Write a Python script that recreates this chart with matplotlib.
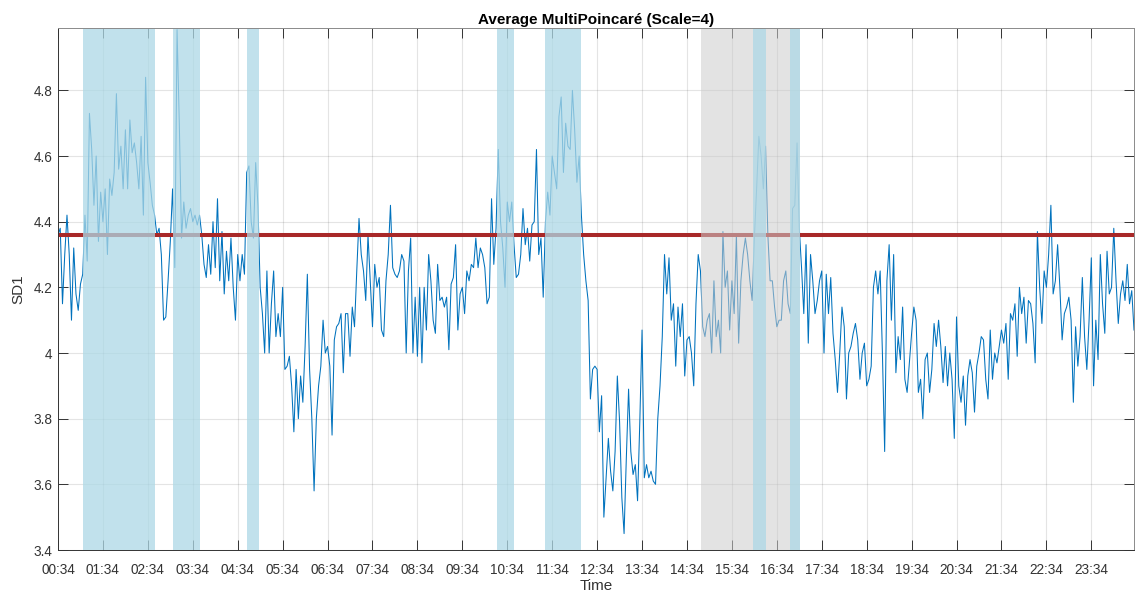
import matplotlib
matplotlib.use("Agg")
import numpy as np
import pandas as pd
import matplotlib.pyplot as plt

# SD1 averaged over the MultiPoincaré scale-4 windows, one value every 3 minutes
# starting at 00:34 (20 values per hour, one row per hour)
sd1 = [
    4.36, 4.38, 4.15, 4.30, 4.42, 4.30, 4.10, 4.32, 4.18, 4.13, 4.21, 4.24, 4.42, 4.28, 4.73, 4.62, 4.45, 4.60, 4.34, 4.49,
    4.40, 4.50, 4.30, 4.53, 4.48, 4.55, 4.79, 4.56, 4.63, 4.50, 4.68, 4.50, 4.71, 4.61, 4.64, 4.58, 4.50, 4.66, 4.42, 4.84,
    4.58, 4.52, 4.45, 4.42, 4.36, 4.38, 4.30, 4.10, 4.11, 4.22, 4.34, 4.50, 4.26, 4.985, 4.70, 4.35, 4.46, 4.38, 4.42, 4.44,
    4.40, 4.42, 4.39, 4.42, 4.36, 4.27, 4.23, 4.33, 4.24, 4.40, 4.26, 4.47, 4.22, 4.37, 4.18, 4.31, 4.22, 4.35, 4.20, 4.10,
    4.30, 4.22, 4.30, 4.24, 4.55, 4.57, 4.40, 4.35, 4.58, 4.45, 4.20, 4.12, 4.00, 4.25, 4.00, 4.15, 4.25, 4.05, 4.12, 4.05,
    4.20, 3.95, 3.96, 3.99, 3.90, 3.76, 3.95, 3.80, 3.93, 3.85, 4.02, 4.24, 3.95, 3.80, 3.58, 3.80, 3.90, 3.96, 4.10, 4.00,
    4.02, 3.96, 3.75, 4.04, 4.08, 4.09, 4.12, 3.94, 4.12, 4.12, 3.99, 4.14, 4.08, 4.25, 4.41, 4.30, 4.25, 4.16, 4.36, 4.22,
    4.08, 4.27, 4.20, 4.23, 4.07, 4.05, 4.22, 4.30, 4.45, 4.26, 4.24, 4.23, 4.25, 4.30, 4.28, 4.00, 4.25, 4.35, 4.00, 4.17,
    3.99, 4.20, 3.97, 4.20, 4.07, 4.30, 4.22, 4.10, 4.06, 4.27, 4.16, 4.17, 4.14, 4.17, 4.01, 4.21, 4.23, 4.33, 4.07, 4.18,
    4.20, 4.12, 4.25, 4.22, 4.27, 4.26, 4.35, 4.26, 4.32, 4.30, 4.26, 4.15, 4.17, 4.47, 4.27, 4.38, 4.62, 4.40, 4.32, 4.20,
    4.46, 4.40, 4.46, 4.33, 4.23, 4.24, 4.30, 4.44, 4.33, 4.38, 4.28, 4.39, 4.40, 4.62, 4.30, 4.35, 4.17, 4.40, 4.49, 4.42,
    4.60, 4.55, 4.50, 4.72, 4.78, 4.55, 4.70, 4.63, 4.62, 4.80, 4.68, 4.52, 4.60, 4.42, 4.30, 4.22, 4.16, 3.86, 3.95, 3.96,
    3.95, 3.76, 3.87, 3.50, 3.62, 3.74, 3.64, 3.58, 3.70, 3.93, 3.79, 3.56, 3.45, 3.68, 3.89, 3.70, 3.63, 3.66, 3.55, 3.79,
    4.07, 3.62, 3.66, 3.62, 3.64, 3.61, 3.60, 3.80, 3.90, 4.05, 4.30, 4.18, 4.29, 4.10, 4.15, 3.96, 4.14, 4.05, 4.15, 3.93,
    4.04, 4.05, 4.00, 3.90, 4.15, 4.30, 4.25, 4.08, 4.05, 4.10, 4.12, 4.00, 4.22, 4.05, 4.10, 4.00, 4.37, 4.20, 4.25, 4.07,
    4.22, 4.12, 4.36, 4.03, 4.22, 4.30, 4.35, 4.30, 4.22, 4.16, 4.35, 4.50, 4.66, 4.60, 4.50, 4.63, 4.36, 4.22, 4.22, 4.14,
    4.08, 4.10, 4.10, 4.22, 4.25, 4.15, 4.12, 4.44, 4.45, 4.64, 4.38, 4.26, 4.12, 4.33, 4.03, 4.30, 4.22, 4.12, 4.16, 4.22,
    4.25, 4.00, 4.24, 4.12, 4.23, 4.06, 3.98, 3.88, 4.00, 4.14, 4.08, 3.86, 4.00, 4.02, 4.06, 4.09, 4.04, 3.92, 4.00, 4.03,
    3.90, 3.92, 3.96, 4.20, 4.25, 4.18, 4.25, 4.00, 3.70, 4.22, 4.33, 4.10, 4.30, 3.94, 4.05, 3.98, 4.14, 3.92, 3.88, 3.97,
    4.06, 4.14, 4.10, 3.88, 3.92, 3.80, 3.98, 4.00, 3.88, 3.95, 4.09, 4.02, 4.10, 4.02, 3.91, 4.02, 3.90, 4.00, 3.92, 3.74,
    4.11, 3.90, 3.85, 3.93, 3.78, 3.93, 3.98, 3.94, 3.82, 3.96, 4.00, 4.05, 4.04, 3.92, 3.86, 4.07, 3.92, 4.00, 3.97, 4.02,
    4.07, 4.03, 4.09, 3.92, 4.12, 4.10, 4.15, 3.99, 4.20, 4.12, 4.17, 4.03, 4.16, 4.15, 4.09, 3.97, 4.37, 4.20, 4.09, 4.25,
    4.20, 4.30, 4.45, 4.18, 4.22, 4.33, 4.20, 4.04, 4.12, 4.14, 4.17, 4.10, 3.85, 4.08, 3.96, 4.05, 4.23, 4.05, 3.95, 4.10,
    4.29, 3.90, 4.10, 3.98, 4.30, 4.15, 4.06, 4.31, 4.18, 4.20, 4.38, 4.22, 4.09, 4.18, 4.22, 4.16, 4.27, 4.15, 4.19, 4.07,
]
start_time = "2000-01-01 00:34"
step_minutes = 3

# whole-recording average of SD1
sd1_mean = 4.358

# highlighted episodes (clock times)
blue_spans = [("01:07", "02:43"), ("03:08", "03:44"), ("04:46", "05:03"),
              ("10:20", "10:43"), ("11:25", "12:13"), ("16:02", "16:19"),
              ("16:51", "17:05")]
gray_spans = [("14:53", "17:05")]

x_tick_labels = ["00:34", "01:34", "02:34", "03:34", "04:34", "05:34", "06:34", "07:34",
                 "08:34", "09:34", "10:34", "11:34", "12:34", "13:34", "14:34", "15:34",
                 "16:34", "17:34", "18:34", "19:34", "20:34", "21:34", "22:34", "23:34"]
y_ticks = [3.4, 3.6, 3.8, 4.0, 4.2, 4.4, 4.6, 4.8]
y_tick_labels = ["3.4", "3.6", "3.8", "4", "4.2", "4.4", "4.6", "4.8"]

plt.rcParams["font.family"] = ["Liberation Sans", "DejaVu Sans"]
text_color = "#333333"

t0 = pd.Timestamp(start_time)
times = (t0 + pd.to_timedelta(np.arange(len(sd1)) * step_minutes, unit="min")).to_pydatetime()
day = t0.normalize()


def clock(s):
    return (day + pd.Timedelta(hours=int(s[:2]), minutes=int(s[3:]))).to_pydatetime()


fig = plt.figure(figsize=(11.35, 5.93), dpi=100)
ax = fig.add_axes([58 / 1135, 43 / 593, 1076 / 1135, 522 / 593])

ax.plot(times, sd1, color="#0072BD", lw=0.75, zorder=2)
ax.axhline(sd1_mean, color="#A82828", lw=2.9, zorder=2.5)

for a, b in gray_spans:
    ax.axvspan(clock(a), clock(b), facecolor=(0.8, 0.8, 0.8), alpha=0.55, lw=0, zorder=3)
for a, b in blue_spans:
    ax.axvspan(clock(a), clock(b), facecolor=(0.678, 0.847, 0.902), alpha=0.75, lw=0, zorder=3.1)

ax.set_xlim(times[0], times[-1])
ax.set_ylim(3.4, 4.99)

tick_times = [clock(s) for s in x_tick_labels]
ax.set_xticks(tick_times)
ax.set_xticklabels(x_tick_labels)
ax.set_yticks(y_ticks)
ax.set_yticklabels(y_tick_labels)

ax.grid(True, color="#262626", alpha=0.12, lw=0.8)
ax.set_axisbelow(True)
ax.tick_params(direction="in", length=7.2, width=0.7, top=True, right=True,
               colors=text_color, labelsize=9.8)
ax.tick_params(axis="x", pad=9)
ax.tick_params(axis="y", pad=4)
for name, sp in ax.spines.items():
    sp.set_color(text_color if name in ("left", "bottom") else "#8a8a8a")
    sp.set_linewidth(0.7)
    sp.set_zorder(5)

ax.set_title("Average MultiPoincaré (Scale=4)", fontsize=11, fontweight="bold",
             color="black", pad=3)
ax.set_xlabel("Time", fontsize=11, color=text_color, labelpad=2)
ax.set_ylabel("SD1", fontsize=11, color=text_color, labelpad=6)

fig.savefig("out.png", dpi=100)
